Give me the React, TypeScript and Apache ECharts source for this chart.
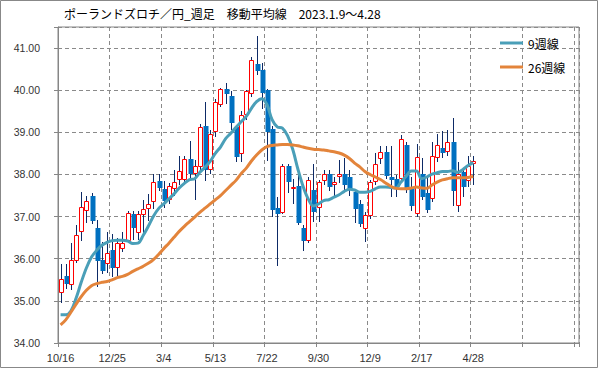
import React, { useEffect, useRef } from "react";
import * as echarts from "echarts";

// X-axis tick labels, one every 10 weeks
const tickLabels = ["10/16", "12/25", "3/4", "5/13", "7/22", "9/30", "12/9", "2/17", "4/28"];
const totalSlots = 101;

// Weekly candles: open, close, low, high
const opens = [
  35.18, 35.6, 35.37, 35.95, 36.64, 37.14, 37.5, 36.73, 35.97, 35.87,
  36.2, 35.78, 36.23, 36.42, 37.05, 36.6, 37.04, 37.17, 37.35, 37.84,
  37.66, 37.39, 37.66, 37.87, 37.87, 38.37, 38.0, 38.17, 39.15, 38.1,
  39.01, 39.66, 40.04, 39.86, 39.12, 38.49, 39.42, 39.92, 40.61, 40.48,
  40.0, 39.09, 37.21, 37.09, 38.19, 37.68, 37.72, 36.74, 36.41, 37.62,
  37.21, 37.84, 38.01, 37.76, 37.94, 38.02, 37.94, 37.58, 37.3, 36.71,
  37.02, 37.82, 38.37, 38.53, 37.95, 37.9, 37.9, 38.69, 37.67, 37.06,
  38.02, 37.57, 37.42, 38.4, 38.64, 38.53, 38.77, 37.24, 38.06, 37.85,
  38.24,
];
const closes = [
  35.52, 35.4, 35.97, 36.57, 37.23, 37.38, 36.9, 35.94, 35.72, 36.13,
  35.79, 36.37, 36.38, 37.09, 36.74, 37.06, 37.18, 37.29, 37.83, 37.68,
  37.37, 37.73, 37.83, 38.08, 38.37, 38.02, 38.19, 39.12, 38.1, 38.97,
  39.73, 40.02, 39.91, 39.22, 38.41, 39.42, 39.98, 40.71, 40.46, 39.94,
  39.01, 37.15, 37.06, 38.21, 37.82, 37.71, 36.85, 36.43, 37.86, 37.1,
  37.82, 38.02, 37.71, 37.81, 38.0, 37.74, 37.65, 37.18, 36.83, 37.03,
  37.82, 38.25, 38.53, 37.96, 37.88, 37.71, 38.85, 37.62, 37.24, 38.41,
  37.46, 37.16, 38.45, 38.69, 38.51, 38.77, 37.6, 38.02, 37.7, 38.21,
  38.31,
];
const lows = [
  34.95, 35.28, 35.26, 35.89, 36.43, 36.84, 36.83, 35.33, 35.64, 35.65,
  35.56, 35.6, 36.15, 36.39, 36.44, 36.44, 36.59, 36.9, 37.18, 37.6,
  37.2, 37.3, 37.5, 37.75, 37.8, 37.9, 37.4, 38.1, 37.85, 38.0,
  38.9, 39.6, 39.67, 39.05, 38.29, 38.29, 39.3, 39.85, 40.35, 39.56,
  38.33, 37.0, 35.83, 37.05, 37.56, 37.3, 36.8, 36.19, 36.38, 36.87,
  36.87, 37.75, 37.6, 37.5, 37.8, 37.58, 37.5, 36.85, 36.75, 36.39,
  36.95, 37.75, 38.25, 37.9, 37.46, 37.46, 37.85, 37.55, 37.14, 37.0,
  37.4, 37.08, 37.35, 38.3, 38.4, 38.45, 37.26, 37.1, 37.46, 37.7,
  37.76,
];
const highs = [
  35.87, 35.87, 36.38, 36.8, 37.59, 37.5, 37.56, 36.92, 36.39, 36.63,
  36.58, 36.5, 36.63, 37.14, 37.14, 37.14, 37.4, 37.54, 38.02, 38.0,
  37.85, 37.8, 38.1, 38.45, 38.45, 38.8, 38.35, 39.2, 39.72, 39.05,
  39.8, 40.05, 40.18, 39.98, 39.17, 39.5, 40.0, 40.78, 41.29, 40.65,
  40.04, 39.15, 37.46, 38.25, 38.25, 37.9, 38.13, 36.8, 37.94, 38.25,
  37.88, 38.1, 38.1, 37.95, 38.35, 38.4, 38.1, 37.65, 37.4, 37.1,
  37.88, 38.52, 38.67, 38.67, 38.67, 37.98, 38.93, 38.77, 37.94, 38.73,
  38.4, 37.94, 38.77, 38.97, 39.02, 39.05, 39.35, 38.29, 38.1, 38.45,
  38.45,
];

// Moving averages
const ma9 = [
  34.67, 34.67, 34.76, 35.06, 35.44, 35.78, 36.04, 36.2, 36.32, 36.39,
  36.43, 36.44, 36.44, 36.42, 36.36, 36.37, 36.55, 36.77, 37.01, 37.19,
  37.3, 37.42, 37.54, 37.68, 37.79, 37.88, 37.9, 38.05, 38.17, 38.31,
  38.5, 38.65, 38.85, 38.98, 39.12, 39.25, 39.38, 39.57, 39.73, 39.8,
  39.66, 39.3, 39.13, 39.1, 38.92, 38.6, 38.13, 37.72, 37.42, 37.25,
  37.3, 37.38, 37.4, 37.46, 37.52, 37.6, 37.65, 37.63, 37.58, 37.58,
  37.6, 37.66, 37.7, 37.7, 37.69, 37.68, 37.82, 37.96, 38.08, 38.08,
  37.9, 37.94, 38.01, 38.04, 38.07, 38.07, 38.09, 38.05, 38.12, 38.21,
  38.28,
];
const ma26 = [
  34.43, 34.55, 34.73, 34.92, 35.1, 35.25, 35.36, 35.41, 35.44, 35.46,
  35.5, 35.55, 35.58, 35.63, 35.7, 35.76, 35.82, 35.89, 35.98, 36.1,
  36.24, 36.37, 36.51, 36.65, 36.77, 36.88, 36.99, 37.1, 37.2, 37.3,
  37.4, 37.5, 37.62, 37.74, 37.86, 38.02, 38.15, 38.32, 38.46, 38.58,
  38.66, 38.69, 38.7, 38.71, 38.71, 38.7, 38.68, 38.65, 38.62, 38.6,
  38.59, 38.58, 38.56, 38.54, 38.51, 38.46, 38.38, 38.27, 38.18, 38.07,
  38.0, 37.94, 37.88, 37.8, 37.72, 37.67, 37.66, 37.66, 37.68, 37.7,
  37.68, 37.67, 37.75, 37.82, 37.87, 37.9, 37.92, 37.92, 37.92, 37.93,
  37.95,
];

const titleText = "ポーランドズロチ／円_週足　移動平均線　2023.1.9～4.28";
const seriesNames = ["9週線", "26週線"];

const CJK = '"Noto Sans CJK JP", "Noto Sans", sans-serif';
const NUM = '"Liberation Sans", Arial, sans-serif';

export default function App() {
  const ref = useRef<HTMLDivElement>(null);

  useEffect(() => {
    if (!ref.current) return;
    const chart = echarts.init(ref.current, null, { renderer: "svg" });

    const categories = Array.from({ length: totalSlots }, (_, i) => String(i));
    const candleData = opens.map((o, i) => [i, o, closes[i], lows[i], highs[i]]);

    const option: any = {
      animation: false,
      backgroundColor: "#ffffff",
      title: {
        text: titleText,
        left: 64,
        top: 7,
        padding: 0,
        textStyle: { fontSize: 12, fontWeight: "normal", color: "#000", fontFamily: CJK },
      },
      legend: {
        data: seriesNames,
        orient: "vertical",
        left: 500,
        top: 36,
        padding: 0,
        itemWidth: 23,
        itemHeight: 3,
        itemGap: 10,
        icon: "rect",
        textStyle: { fontSize: 12, color: "#000", fontFamily: CJK, lineHeight: 14, padding: [0, 0, 0, 0] },
      },
      graphic: [
        {
          type: "rect",
          shape: { x: 0.5, y: 0.5, width: 597, height: 367 },
          style: { fill: "none", stroke: "#888888", lineWidth: 1 },
          silent: true,
        },
      ],
      grid: {
        left: 58,
        top: 27,
        width: 521,
        height: 316,
        show: true,
        borderColor: "#868686",
        borderWidth: 1,
        backgroundColor: "transparent",
      },
      xAxis: {
        type: "category",
        data: categories,
        boundaryGap: true,
        axisLine: { show: true, lineStyle: { color: "#868686" } },
        axisTick: { show: true, interval: 9, length: 4, lineStyle: { color: "#868686" } },
        splitLine: { show: true, interval: 9, lineStyle: { color: "#8a8a8a", type: [4, 3] } },
        axisLabel: {
          interval: 0,
          margin: 9,
          fontSize: 11,
          color: "#333",
          fontFamily: NUM,
          formatter: (_v: string, idx: number) => (idx % 10 === 0 ? tickLabels[idx / 10] ?? "" : ""),
        },
      },
      yAxis: {
        type: "value",
        min: 34,
        max: 41.5,
        interval: 1,
        axisLine: { show: true, lineStyle: { color: "#868686" } },
        axisTick: { show: true, length: 4, lineStyle: { color: "#868686" } },
        splitLine: { show: true, lineStyle: { color: "#8a8a8a", type: [4, 3] } },
        axisLabel: {
          margin: 18,
          fontSize: 10.5,
          color: "#333",
          fontFamily: NUM,
          formatter: (v: number) => (Math.abs(v - Math.round(v)) < 1e-6 ? v.toFixed(2) : ""),
        },
      },
      series: [
        {
          type: "custom",
          name: "candles",
          data: candleData,
          encode: { x: 0, y: [1, 2, 3, 4] },
          z: 2,
          renderItem: (_params: any, api: any) => {
            const i = api.value(0);
            const o = api.value(1);
            const c = api.value(2);
            const l = api.value(3);
            const h = api.value(4);
            const pO = api.coord([i, o]);
            const pC = api.coord([i, c]);
            const pL = api.coord([i, l]);
            const pH = api.coord([i, h]);
            const cx = Math.round(pO[0]);
            const top = Math.round(Math.min(pO[1], pC[1]));
            const bot = Math.round(Math.max(pO[1], pC[1]));
            const up = c >= o;
            const wick = {
              type: "line",
              shape: { x1: cx + 0.5, y1: Math.round(pH[1]), x2: cx + 0.5, y2: Math.round(pL[1]) },
              style: { stroke: "#0d2a66", lineWidth: 1 },
            };
            const body = up
              ? {
                  type: "rect",
                  shape: { x: cx - 1.5, y: top + 0.5, width: 4, height: Math.max(bot - top - 1, 1) },
                  style: { fill: "#ffffff", stroke: "#ff0000", lineWidth: 1 },
                }
              : {
                  type: "rect",
                  shape: { x: cx - 1.5, y: top, width: 5, height: Math.max(bot - top, 1) },
                  style: { fill: "#0070c0", stroke: null },
                };
            return { type: "group", children: [wick, body] };
          },
        },
        {
          type: "line",
          name: seriesNames[0],
          data: ma9,
          smooth: 0.35,
          showSymbol: false,
          symbol: "none",
          z: 3,
          lineStyle: { color: "#4a9fb8", width: 3 },
          itemStyle: { color: "#4a9fb8" },
        },
        {
          type: "line",
          name: seriesNames[1],
          data: ma26,
          smooth: 0.35,
          showSymbol: false,
          symbol: "none",
          z: 3,
          lineStyle: { color: "#e3843b", width: 3 },
          itemStyle: { color: "#e3843b" },
        },
      ],
    };

    chart.setOption(option);
    return () => chart.dispose();
  }, []);

  return (
    <div
      ref={ref}
      style={{ position: "absolute", left: 0, top: 0, width: 599, height: 369, background: "#fff" }}
    />
  );
}
